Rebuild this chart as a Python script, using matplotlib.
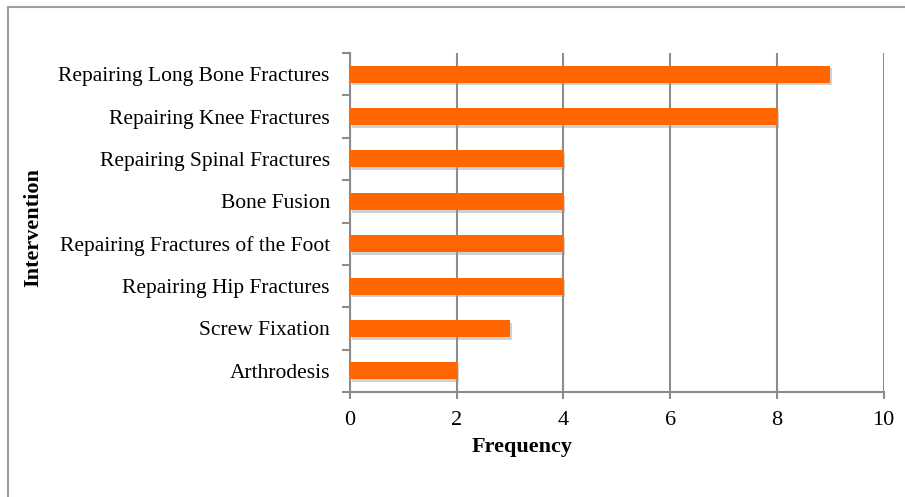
import matplotlib.pyplot as plt
import matplotlib.patheffects as pe
from matplotlib.lines import Line2D

interventions = [
    "Arthrodesis",
    "Screw Fixation",
    "Repairing Hip Fractures",
    "Repairing Fractures of the Foot",
    "Bone Fusion",
    "Repairing Spinal Fractures",
    "Repairing Knee Fractures",
    "Repairing Long Bone Fractures",
]
frequency = [2, 3, 4, 4, 4, 4, 8, 9]
x_ticks = [0, 2, 4, 6, 8, 10]

plt.rcParams['font.family'] = ['Liberation Serif', 'DejaVu Serif']
grey = '#8c8c8c'

fig = plt.figure(figsize=(9.05, 4.97), dpi=100)
W, H = 905, 497
ax_w = 883.5 - 350
ax = fig.add_axes([350 / W, 1 - 392 / H, ax_w / W, (392 - 53) / H])

# outer frame (only top and left edges are visible in the crop)
fig.add_artist(Line2D([8 / W, 8 / W], [0, 1 - 7 / H], color='#a0a0a0', lw=1.5,
                      transform=fig.transFigure))
fig.add_artist(Line2D([8 / W, 1], [1 - 7 / H, 1 - 7 / H], color='#a0a0a0', lw=1.5,
                      transform=fig.transFigure))

pos = list(range(len(interventions)))
bars = ax.barh(pos, frequency, height=0.4, color='#ff6600', zorder=3)
for b in bars:
    b.set_path_effects([pe.SimplePatchShadow(offset=(1.5, -2), shadow_rgbFace='#999999', alpha=0.45),
                        pe.Normal()])

ax.set_xlim(0, 10)
ax.set_ylim(-0.5, len(interventions) - 0.5)
ax.set_xticks(x_ticks)
ax.set_xticklabels([str(t) for t in x_ticks], fontsize=16)
ax.set_yticks(pos)
ax.set_yticklabels(interventions, fontsize=15.5)
ax.set_yticks([p - 0.5 for p in pos] + [len(pos) - 0.5], minor=True)
ax.tick_params(axis='y', which='major', length=0, pad=14.5)
ax.tick_params(axis='y', which='minor', length=6, color=grey, width=1.5)
ax.tick_params(axis='x', length=5, color=grey, width=1.5, pad=9)

ax.grid(axis='x', color=grey, lw=1.5, zorder=0)
ax.set_axisbelow(True)
for s in ['top', 'right']:
    ax.spines[s].set_visible(False)
for s in ['left', 'bottom']:
    ax.spines[s].set_color(grey)
    ax.spines[s].set_linewidth(1.5)

ax.set_xlabel("Frequency", fontsize=16, fontweight='bold')
ax.xaxis.set_label_coords((522 - 350) / ax_w, -(447 - 392) / (392 - 53))
ax.xaxis.label.set_va('center')
ax.set_ylabel("Intervention", fontsize=16, fontweight='bold')
ax.yaxis.set_label_coords(-(350 - 33) / ax_w, 1 - (228 - 53) / (392 - 53))
ax.yaxis.label.set_va('center')

fig.savefig("out.png", dpi=100)
